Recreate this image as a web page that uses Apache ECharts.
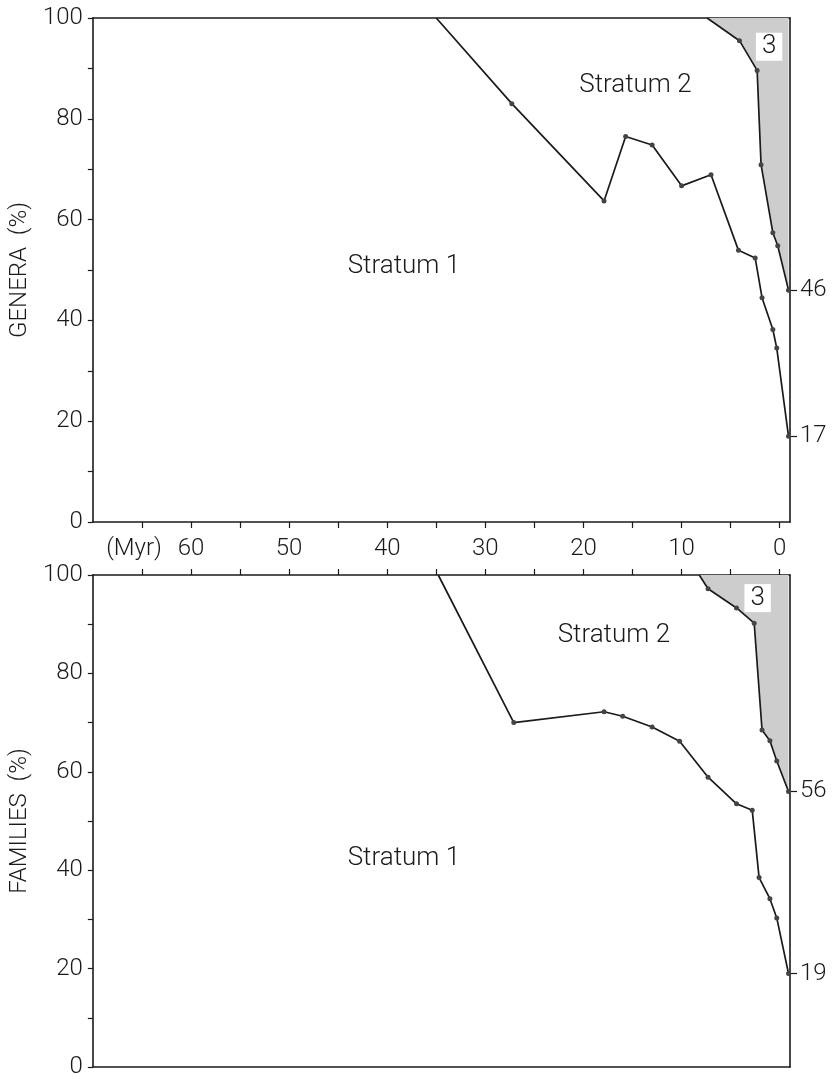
<!DOCTYPE html>
<html>
<head>
<meta charset="utf-8">
<script src="https://cdn.jsdelivr.net/npm/echarts@6/dist/echarts.min.js"></script>
<style>
html,body{margin:0;padding:0;background:#fff;}
#chart{width:832px;height:1079px;}
</style>
</head>
<body>
<div id="chart"></div>
<script>
// ---- data (age in Myr, percent) ----
var generaS12Ages = [35.0, 27.3, 17.9, 15.7, 13.0, 10.0, 7.0, 4.2, 2.5, 1.8, 0.7, 0.3, -0.9];
var generaS12Vals = [100, 83, 63.7, 76.5, 74.8, 66.7, 68.9, 53.9, 52.4, 44.5, 38.2, 34.5, 17];
var generaS23Ages = [7.4, 4.1, 2.3, 1.9, 0.7, 0.2, -0.9];
var generaS23Vals = [100, 95.5, 89.6, 70.9, 57.4, 54.8, 46];

var familiesS12Ages = [34.8, 27.1, 17.9, 16.0, 13.0, 10.2, 7.3, 4.4, 2.8, 2.1, 1.0, 0.3, -0.9];
var familiesS12Vals = [100, 70, 72.2, 71.3, 69.1, 66.2, 58.9, 53.5, 52.2, 38.5, 34.2, 30.3, 19];
var familiesS23Ages = [8.2, 7.3, 4.4, 2.6, 1.8, 1.0, 0.3, -0.9];
var familiesS23Vals = [100, 97.2, 93.3, 90.2, 68.5, 66.3, 62.2, 56];

var ageTicks = [0, 5, 10, 15, 20, 25, 30, 35, 40, 45, 50, 55, 60, 65];
var ageLabels = [0, 10, 20, 30, 40, 50, 60];
var unitLabelPos = 65.8;
var generaEndLabels = [17, 46];
var familiesEndLabels = [19, 56];

var generaNotes = [[38.3, 50.6, 'Stratum 1'], [14.7, 86.7, 'Stratum 2']];
var generaRegion3 = [[1.08, 94.3, '3']];
var familiesNotes = [[38.3, 42.4, 'Stratum 1'], [16.9, 87.7, 'Stratum 2']];
var familiesRegion3 = [[2.25, 95.3, '3']];

function zip(a, b) { return a.map(function (v, i) { return [v, b[i]]; }); }

var FONT = 'Roboto, "DejaVu Sans", sans-serif';
var INK = '#1a1a1a';
var FS = 24;
var textStyle = { fontFamily: FONT, fontSize: FS, color: INK, fontWeight: 300 };

function baseX(grid, extra) {
  var o = {
    type: 'value', gridIndex: grid, inverse: true, min: -1.05, max: 70,
    splitLine: { show: false },
    axisLine: { show: true, onZero: false, lineStyle: { color: INK, width: 1.6 } },
    axisTick: { show: false },
    axisLabel: { show: false }
  };
  for (var k in extra) o[k] = extra[k];
  return o;
}

function leftY(grid, name) {
  return {
    type: 'value', gridIndex: grid, min: 0, max: 100, interval: 20,
    name: name, nameLocation: 'middle', nameGap: 51,
    nameTextStyle: textStyle,
    splitLine: { show: false },
    axisLine: { show: true, onZero: false, lineStyle: { color: INK, width: 1.6 } },
    axisTick: { show: true, length: 5, lineStyle: { color: INK, width: 1.2 } },
    minorTick: { show: true, splitNumber: 2, length: 5, lineStyle: { color: INK, width: 1.2 } },
    axisLabel: Object.assign({ margin: 10 }, textStyle)
  };
}

function rightY(grid, vals) {
  return {
    type: 'value', gridIndex: grid, min: 0, max: 100, position: 'right',
    splitLine: { show: false },
    axisLine: { show: true, onZero: false, lineStyle: { color: INK, width: 1.6 } },
    axisTick: { show: true, customValues: vals, length: 7, lineStyle: { color: INK, width: 1.2 } },
    axisLabel: Object.assign({ customValues: vals, margin: 10 }, textStyle)
  };
}

function boundary(xi, yi, data, area) {
  var s = {
    type: 'line', xAxisIndex: xi, yAxisIndex: yi, data: data,
    symbol: 'circle',
    symbolSize: function (v) { return v[1] >= 100 ? 0 : 5; },
    itemStyle: { color: '#444' },
    lineStyle: { color: INK, width: 1.7 },
    z: 3
  };
  if (area) s.areaStyle = { color: '#cdcdcd', origin: 'end', opacity: 1 };
  return s;
}

function notes(xi, yi, data, boxed) {
  var lab = Object.assign({
    show: true, position: 'inside',
    formatter: function (p) { return p.value[2]; }
  }, textStyle);
  lab.fontSize = 26;
  lab.opacity = 1;
  if (boxed) { lab.backgroundColor = '#fff'; lab.padding = [2, 6, 0, 6]; }
  return {
    type: 'scatter', xAxisIndex: xi, yAxisIndex: yi, data: data,
    symbolSize: 1, itemStyle: { color: 'rgba(0,0,0,0)', opacity: 1 },
    label: lab, z: 5, silent: true
  };
}

var chart = echarts.init(document.getElementById('chart'), null, { renderer: 'canvas' });
chart.setOption({
  animation: false,
  backgroundColor: '#fff',
  grid: [
    { left: 86, right: 42, top: 18, height: 504 },
    { left: 86, right: 42, top: 575, height: 500 }
  ],
  xAxis: [
    baseX(0, {
      position: 'bottom',
      axisTick: { show: true, customValues: ageTicks, length: 6, lineStyle: { color: INK, width: 1.2 } },
      axisLabel: Object.assign({
        show: true, margin: 15,
        customValues: ageLabels.concat([unitLabelPos]),
        formatter: function (v) { return v > 61 ? '(Myr)' : String(v); }
      }, textStyle)
    }),
    baseX(0, { position: 'top' }),
    baseX(1, {
      position: 'top',
      axisTick: { show: true, customValues: ageTicks, length: 6, lineStyle: { color: INK, width: 1.2 } }
    }),
    baseX(1, { position: 'bottom' })
  ],
  yAxis: [
    leftY(0, 'GENERA  (%)'),
    rightY(0, generaEndLabels),
    leftY(1, 'FAMILIES  (%)'),
    rightY(1, familiesEndLabels)
  ],
  series: [
    boundary(0, 0, zip(generaS23Ages, generaS23Vals), true),
    boundary(0, 0, zip(generaS12Ages, generaS12Vals), false),
    boundary(2, 2, zip(familiesS23Ages, familiesS23Vals), true),
    boundary(2, 2, zip(familiesS12Ages, familiesS12Vals), false),
    notes(0, 0, generaNotes, false),
    notes(0, 0, generaRegion3, true),
    notes(2, 2, familiesNotes, false),
    notes(2, 2, familiesRegion3, true)
  ]
});
</script>
</body>
</html>
